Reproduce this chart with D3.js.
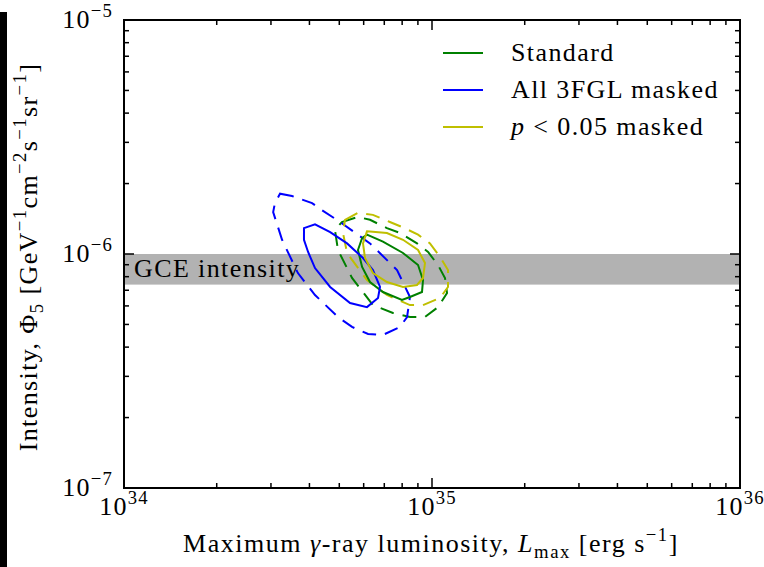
<!DOCTYPE html>
<html>
<head>
<meta charset="utf-8">
<script src="https://cdn.jsdelivr.net/npm/d3@7"></script>
<style>
  body { margin: 0; background: #fff; }
  text { font-family: "Liberation Serif", "DejaVu Serif", serif; fill: #000; }
</style>
</head>
<body>
<svg id="chart"></svg>
<script>
let margin = { top: 20, right: 24, bottom: 79, left: 124 }
let W = 764, H = 567
let w = W - margin.left - margin.right, h = H - margin.top - margin.bottom

// axis ranges
let xDomain = [1e34, 1e36]
let yDomain = [1e-7, 1e-5]
let xTicks = [1e34, 1e35, 1e36]
let xTickExp = ["34", "35", "36"]
let yTicks = [1e-7, 1e-6, 1e-5]
let yTickExp = ["\u22127", "\u22126", "\u22125"]

// GCE intensity band
let gceBand = [7.4e-7, 1.0e-6]

// contours [L_max, Phi_5]
let standard68 = [[5.93e34,1.17e-6],[6.15e34,1.21e-6],[6.93e34,1.13e-6],[8.05e34,1.01e-6],[9.01e34,8.97e-7],[9.35e34,7.74e-7],[9.28e34,6.88e-7],[8.48e34,6.55e-7],[7.99e34,6.36e-7],[6.93e34,6.88e-7],[6.29e34,7.59e-7],[5.93e34,8.80e-7],[5.75e34,1.04e-6]]
let standard95 = [[5.10e34,1.37e-6],[5.75e34,1.44e-6],[6.29e34,1.40e-6],[7.14e34,1.29e-6],[7.87e34,1.23e-6],[8.94e34,1.11e-6],[9.71e34,1.02e-6],[1.046e35,8.97e-7],[1.102e35,7.90e-7],[1.119e35,6.81e-7],[1.046e35,5.93e-7],[9.49e34,5.38e-7],[8.48e34,5.38e-7],[7.47e34,5.60e-7],[6.43e34,6.05e-7],[5.50e34,7.90e-7],[4.95e34,1.04e-6],[4.84e34,1.27e-6]]
let all3fgl68 = [[3.84e34,1.29e-6],[4.17e34,1.34e-6],[4.67e34,1.24e-6],[5.30e34,1.11e-6],[5.97e34,9.61e-7],[6.43e34,8.54e-7],[6.78e34,7.23e-7],[6.68e34,6.49e-7],[6.15e34,5.93e-7],[5.42e34,6.17e-7],[4.67e34,7.23e-7],[4.17e34,8.71e-7],[3.96e34,1.02e-6],[3.84e34,1.15e-6]]
let all3fgl95 = [[3.21e34,1.81e-6],[3.51e34,1.77e-6],[4.08e34,1.65e-6],[4.39e34,1.54e-6],[5.03e34,1.37e-6],[6.29e34,1.11e-6],[7.70e34,8.54e-7],[8.48e34,6.55e-7],[8.30e34,5.38e-7],[7.87e34,4.88e-7],[6.93e34,4.51e-7],[6.20e34,4.55e-7],[5.50e34,4.88e-7],[4.95e34,5.38e-7],[4.17e34,6.68e-7],[3.67e34,8.29e-7],[3.26e34,1.15e-6],[3.05e34,1.51e-6],[3.09e34,1.65e-6]]
let pval68 = [[6.15e34,1.25e-6],[7.14e34,1.23e-6],[8.05e34,1.15e-6],[9.01e34,1.04e-6],[9.49e34,9.15e-7],[9.35e34,7.90e-7],[8.94e34,7.37e-7],[8.05e34,7.23e-7],[7.14e34,7.59e-7],[6.43e34,8.29e-7],[6.06e34,9.61e-7],[5.97e34,1.11e-6]]
let pval95 = [[5.22e34,1.40e-6],[5.75e34,1.50e-6],[6.43e34,1.47e-6],[7.30e34,1.37e-6],[8.05e34,1.30e-6],[9.01e34,1.21e-6],[9.85e34,1.11e-6],[1.062e35,9.71e-7],[1.127e35,8.54e-7],[1.127e35,7.23e-7],[1.062e35,6.49e-7],[9.35e34,6.05e-7],[8.48e34,6.05e-7],[7.76e34,6.36e-7],[7.14e34,6.68e-7],[6.15e34,7.74e-7],[5.30e34,1.01e-6],[5.14e34,1.23e-6]]

let seriesNames = ["Standard", "All 3FGL masked", "p < 0.05 masked"]
let seriesColors = ["#008000", "#0000ff", "#bfbf00"]

let svg = d3.select("#chart").attr("width", W).attr("height", H)

svg.append("rect").attr("width", W).attr("height", H).attr("fill", "#fff")
// black strip at the left edge of the picture
svg.append("rect").attr("x", 0).attr("y", 12).attr("width", 7).attr("height", H - 12).attr("fill", "#000")

let x = d3.scaleLog().domain(xDomain).range([margin.left, margin.left + w])
let y = d3.scaleLog().domain(yDomain).range([margin.top + h, margin.top])

// band
svg.append("rect")
    .attr("x", margin.left)
    .attr("width", w)
    .attr("y", y(gceBand[1]))
    .attr("height", y(gceBand[0]) - y(gceBand[1]))
    .attr("fill", "#b2b2b2")

svg.append("text")
    .attr("x", margin.left + 10)
    .attr("y", y(gceBand[0]) - 8)
    .attr("font-size", 26)
    .attr("letter-spacing", 1.4)
    .text("GCE intensity")

// contours
let line = d3.line().x(d => x(d[0])).y(d => y(d[1])).curve(d3.curveLinearClosed)
let contours = [
    { pts: standard95, c: 0, dash: true },
    { pts: all3fgl95, c: 1, dash: true },
    { pts: pval95, c: 2, dash: true },
    { pts: standard68, c: 0, dash: false },
    { pts: all3fgl68, c: 1, dash: false },
    { pts: pval68, c: 2, dash: false }
]
svg.selectAll("path.contour")
    .data(contours)
    .enter()
    .append("path")
    .attr("class", "contour")
    .attr("d", d => line(d.pts))
    .attr("fill", "none")
    .attr("stroke", d => seriesColors[d.c])
    .attr("stroke-width", 2)
    .attr("stroke-dasharray", d => d.dash ? "14,9" : null)

// ticks, all four sides, pointing in
function minorTicks(dom) {
    let out = []
    let a = Math.round(Math.log10(dom[0])), b = Math.round(Math.log10(dom[1]))
    for (let e = a; e < b; e++) for (let m = 2; m <= 9; m++) out.push(m * Math.pow(10, e))
    return out
}
let tickG = svg.append("g").attr("stroke", "#000").attr("stroke-width", 1.5)
let xAll = xTicks.map(v => [v, 10]).concat(minorTicks(xDomain).map(v => [v, 5]))
let yAll = yTicks.map(v => [v, 10]).concat(minorTicks(yDomain).map(v => [v, 5]))
xAll.forEach(function (t) {
    let px = x(t[0])
    tickG.append("line").attr("x1", px).attr("x2", px).attr("y1", margin.top + h).attr("y2", margin.top + h - t[1])
    tickG.append("line").attr("x1", px).attr("x2", px).attr("y1", margin.top).attr("y2", margin.top + t[1])
})
yAll.forEach(function (t) {
    let py = y(t[0])
    tickG.append("line").attr("y1", py).attr("y2", py).attr("x1", margin.left).attr("x2", margin.left + t[1])
    tickG.append("line").attr("y1", py).attr("y2", py).attr("x1", margin.left + w).attr("x2", margin.left + w - t[1])
})

svg.append("rect")
    .attr("x", margin.left).attr("y", margin.top)
    .attr("width", w).attr("height", h)
    .attr("fill", "none").attr("stroke", "#000").attr("stroke-width", 2)

// rich text helper: parts are [string, kind] with kind in "", "sup", "sub", "i"
function rich(sel, parts, size) {
    let off = 0
    parts.forEach(function (p) {
        let kind = p[1] || ""
        let target = kind == "sup" ? -0.42 * size : kind == "sub" ? 0.22 * size : 0
        let ts = sel.append("tspan").text(p[0]).attr("dy", target - off)
        if (kind == "sup" || kind == "sub") ts.attr("font-size", size * 0.72)
        if (kind == "i") ts.attr("font-style", "italic")
        off = target
    })
}

xTicks.forEach(function (v, i) {
    let t = svg.append("text")
        .attr("x", x(v)).attr("y", margin.top + h + 27)
        .attr("text-anchor", "middle").attr("font-size", 26)
        .attr("letter-spacing", 1.2)
    rich(t, [["10"], [xTickExp[i], "sup"]], 26)
})
yTicks.forEach(function (v, i) {
    let t = svg.append("text")
        .attr("x", margin.left - 11).attr("y", y(v) + 8)
        .attr("text-anchor", "end").attr("font-size", 26)
        .attr("letter-spacing", 1.2)
    rich(t, [["10"], [yTickExp[i], "sup"]], 26)
})

let xl = svg.append("text")
    .attr("x", margin.left + w / 2 - 1).attr("y", 552)
    .attr("text-anchor", "middle").attr("font-size", 26)
    .attr("letter-spacing", 1.5)
rich(xl, [["Maximum "], ["\u03b3", "i"], ["-ray luminosity, "], ["L", "i"], ["max", "sub"], [" [erg s"], ["\u22121", "sup"], ["]"]], 26)

let yl = svg.append("text")
    .attr("transform", "translate(37," + (margin.top + h / 2 + 3) + ") rotate(-90)")
    .attr("text-anchor", "middle").attr("font-size", 26)
    .attr("letter-spacing", 1.4)
rich(yl, [["Intensity, \u03a6"], ["5", "sub"], [" [GeV"], ["\u22121", "sup"], ["cm"], ["\u22122", "sup"], ["s"], ["\u22121", "sup"], ["sr"], ["\u22121", "sup"], ["]"]], 26)

// legend
let legendLabels = [[["Standard"]], [["All 3FGL masked"]], [["p", "i"], [" < 0.05 masked"]]]
seriesNames.forEach(function (name, i) {
    let ly = 53 + i * 37
    svg.append("line")
        .attr("x1", 443).attr("x2", 483).attr("y1", ly).attr("y2", ly)
        .attr("stroke", seriesColors[i]).attr("stroke-width", 2)
    let t = svg.append("text").attr("x", 511).attr("y", ly + 8)
        .attr("font-size", 26).attr("letter-spacing", 1.4)
    rich(t, legendLabels[i], 26)
})
</script>
</body>
</html>
